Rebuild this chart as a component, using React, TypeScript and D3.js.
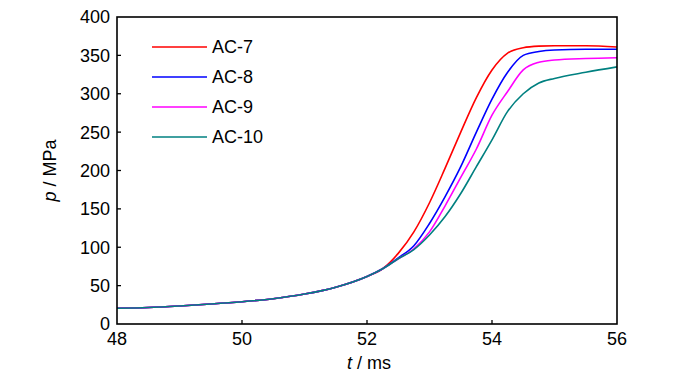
import React from "react";
import * as d3 from "d3";

// time axis (ms), shared by all series
const times = [48, 48.5, 49, 49.5, 50, 50.5, 51, 51.5, 52, 52.25, 52.5, 52.75, 53, 53.25, 53.5, 53.75, 54, 54.25, 54.5, 54.75, 55, 55.5, 56];

// pressure (MPa)
const ac7 = [20.5, 21.5, 23.5, 26, 29, 33, 39, 48, 62, 72, 92, 120, 158, 203, 250, 295, 331, 353, 360, 362, 362.5, 362.5, 361];
const ac8 = [20.5, 21.5, 23.5, 26, 29, 33, 39, 48, 62, 72, 86, 102, 131, 166, 205, 250, 293, 328, 350, 355, 357, 358, 358];
const ac9 = [20.5, 21.5, 23.5, 26, 29, 33, 39, 48, 62, 72, 85, 98, 120, 154, 191, 228, 272, 303, 331, 341, 344, 346, 347];
const ac10 = [20.5, 21.5, 23.5, 26, 29, 33, 39, 48, 62, 72, 85, 97, 116, 140, 170, 205, 240, 277, 300, 314, 320, 328, 335];

const seriesNames = ["AC-7", "AC-8", "AC-9", "AC-10"];
const seriesColors = ["#ff0000", "#0000ff", "#ff00ff", "#008080"];
const seriesValues = [ac7, ac8, ac9, ac10];

const xTicks = [48, 50, 52, 54, 56];
const yTicks = [0, 50, 100, 150, 200, 250, 300, 350, 400];

const font = "'Liberation Sans', Arial, sans-serif";

export default function App() {
  const left = 117, right = 617, top = 17, bottom = 324;
  const x = d3.scaleLinear().domain([48, 56]).range([left, right]);
  const y = d3.scaleLinear().domain([0, 400]).range([bottom, top]);

  const line = d3.line<number>()
    .x((_, i) => x(times[i]))
    .y((d) => y(d))
    .curve(d3.curveMonotoneX);

  return (
    <div style={{ position: "absolute", left: 0, top: 0 }}>
      <svg width={700} height={374} style={{ display: "block", fontFamily: font }}>
        <rect width={700} height={374} fill="#fff" />

        {seriesValues.map((vals, i) => (
          <path key={i} d={line(vals) || ""} fill="none" stroke={seriesColors[i]} strokeWidth={1.6} />
        ))}

        {/* frame */}
        <rect x={left} y={top} width={right - left} height={bottom - top} fill="none" stroke="#000" strokeWidth={1.6} />

        {/* y ticks */}
        {yTicks.map((t) => (
          <g key={t}>
            {t > 0 && t < 400 && (
              <line x1={left} x2={left + 4} y1={y(t)} y2={y(t)} stroke="#000" strokeWidth={1.3} />
            )}
            <text x={left - 7} y={y(t)} dy="0.36em" textAnchor="end" fontSize={18}>{t}</text>
          </g>
        ))}

        {/* x ticks */}
        {xTicks.map((t) => (
          <g key={t}>
            {t > 48 && t < 56 && (
              <line x1={x(t)} x2={x(t)} y1={bottom} y2={bottom - 4} stroke="#000" strokeWidth={1.3} />
            )}
            <text x={x(t)} y={345} textAnchor="middle" fontSize={18}>{t}</text>
          </g>
        ))}

        {/* axis titles */}
        <text x={369} y={369} textAnchor="middle" fontSize={18}>
          <tspan fontStyle="italic">t</tspan> / ms
        </text>
        <text transform={`translate(56,${(top + bottom) / 2}) rotate(-90)`} textAnchor="middle" fontSize={18}>
          <tspan fontStyle="italic">p</tspan> / MPa
        </text>

        {/* legend */}
        {seriesNames.map((name, i) => (
          <g key={name} transform={`translate(0,${47 + i * 30})`}>
            <line x1={152} x2={207} y1={0} y2={0} stroke={seriesColors[i]} strokeWidth={1.6} />
            <text x={212} y={0} dy="0.36em" fontSize={18}>{name}</text>
          </g>
        ))}
      </svg>
    </div>
  );
}
